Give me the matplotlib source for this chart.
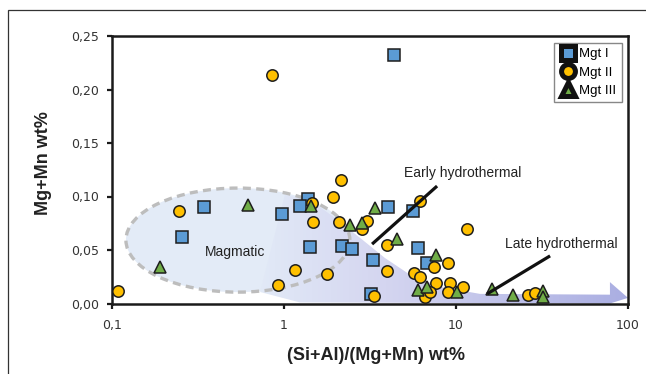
import numpy as np
import matplotlib
matplotlib.use('Agg')
from matplotlib import pyplot as plt
from matplotlib.patches import Ellipse, PathPatch, Rectangle
from matplotlib.path import Path
from matplotlib.lines import Line2D
from matplotlib.ticker import FixedLocator, NullLocator

## data: x = (Si+Al)/(Mg+Mn), y = Mg+Mn wt%
mgt1_x = [4.36, 0.343, 0.255, 0.97, 1.38, 1.24, 1.42, 2.17, 2.48, 3.29, 3.19,
          4.03, 5.62, 6.0, 6.78]
mgt1_y = [0.232, 0.090, 0.062, 0.084, 0.098, 0.091, 0.053, 0.054, 0.051,
          0.041, 0.009, 0.090, 0.086, 0.052, 0.038]

mgt2_x = [0.85, 0.108, 0.245, 0.92, 1.16, 1.78, 1.46, 1.47, 1.93, 2.14, 2.09,
          3.04, 2.84, 3.97, 3.97, 3.33, 6.18, 11.6, 7.45, 8.97, 5.70, 6.2,
          7.66, 9.2, 11.0, 8.97, 6.6, 7.07, 26.2, 28.8]
mgt2_y = [0.214, 0.012, 0.086, 0.017, 0.031, 0.028, 0.094, 0.076, 0.100,
          0.115, 0.076, 0.077, 0.070, 0.055, 0.030, 0.007, 0.096, 0.070,
          0.034, 0.038, 0.0285, 0.025, 0.019, 0.019, 0.0155, 0.011, 0.006,
          0.011, 0.008, 0.0098]

mgt3_x = [0.190, 0.618, 1.44, 3.38, 2.42, 2.84, 4.54, 7.66, 6.0, 6.78, 10.1,
          16.2, 21.4, 32.1, 32.1]
mgt3_y = [0.034, 0.092, 0.091, 0.089, 0.073, 0.075, 0.060, 0.045, 0.0126,
          0.0155, 0.0107, 0.0135, 0.008, 0.0117, 0.006]

x_ticks = [0.1, 1, 10, 100]
x_ticklabels = ['0,1', '1', '10', '100']
y_ticks = [0.0, 0.05, 0.10, 0.15, 0.20, 0.25]
y_ticklabels = ['0,00', '0,05', '0,10', '0,15', '0,20', '0,25']

labels = ['Mgt I', 'Mgt II', 'Mgt III']
colors = ['#5b9bd5', '#ffc000', '#70ad47']
markers = ['s', 'o', '^']

txt_font = ['Liberation Sans', 'DejaVu Sans']

fig = plt.figure(figsize=(6.46, 3.74), dpi=100)
ax = fig.add_axes([112/646, 1-303.5/374, 516/646, 267.5/374])
ax.set_xscale('log')

## outer frame of the figure
fig.patches.append(Rectangle((8/646, -0.2), 1.2, 1.2 - 10/374,
                             transform=fig.transFigure, fill=False,
                             ec='#333333', lw=0.9))

## magmatic field (ellipse in axes fraction)
ell = Ellipse((0.244, 0.237), 0.434, 0.389, transform=ax.transAxes,
              fc='#e3ebf7', ec='none', zorder=1)
ax.add_patch(ell)

## hydrothermal trend, gradient filled wedge ending in an arrow head
wedge = [(0.335, 0.406), (0.384, 0.387), (0.432, 0.320), (0.481, 0.245),
         (0.529, 0.170), (0.578, 0.107), (0.636, 0.062), (0.713, 0.036),
         (0.965, 0.033), (0.965, 0.080), (1.0, 0.021), (0.965, 0.0),
         (0.364, 0.004), (0.287, 0.043), (0.335, 0.406)]
path = Path(wedge, [Path.MOVETO] + [Path.LINETO] * (len(wedge) - 2)
            + [Path.CLOSEPOLY])
clip = PathPatch(path, transform=ax.transAxes, fc='none', ec='none')
ax.add_patch(clip)
stops = np.array([0.0, 0.35, 1.0])
cols = np.array([[226, 234, 247], [212, 213, 240], [170, 174, 226]]) / 255.
t = np.linspace(0, 1, 300)
img = np.stack([np.interp(t, stops, cols[:, k]) for k in range(3)], axis=-1)
img = img[np.newaxis, :, :]
im = ax.imshow(img, extent=[0.28, 1.0, 0.0, 0.45], transform=ax.transAxes,
               aspect='auto', interpolation='bilinear', zorder=1.2)
im.set_clip_path(clip)

## dashed outline of the magmatic field
outline = Ellipse((0.244, 0.237), 0.434, 0.389, transform=ax.transAxes,
                  fc='none', ec='#bdbdbd', lw=2.4, ls=(0, (2.4, 1.6)),
                  zorder=2)
ax.add_patch(outline)

## data
for xs, ys, m, c in zip([mgt1_x, mgt2_x, mgt3_x], [mgt1_y, mgt2_y, mgt3_y],
                        markers, colors):
    ax.plot(xs, ys, ls='', marker=m, ms=8.2, mfc=c, mec='#1e1e1e', mew=1.1,
            zorder=3)

## annotations
ax.plot([0.504, 0.630], [0.222, 0.439], color='#111111', lw=2.3,
        transform=ax.transAxes, zorder=4, solid_capstyle='butt')
ax.plot([0.849, 0.727], [0.178, 0.036], color='#111111', lw=2.3,
        transform=ax.transAxes, zorder=4, solid_capstyle='butt')
ax.text(0.680, 0.488, 'Early hydrothermal', transform=ax.transAxes,
        ha='center', va='center', fontsize=10, family=txt_font,
        color='#222222', zorder=5)
ax.text(0.870, 0.222, 'Late hydrothermal', transform=ax.transAxes,
        ha='center', va='center', fontsize=10, family=txt_font,
        color='#222222', zorder=5)
ax.text(0.238, 0.193, 'Magmatic', transform=ax.transAxes,
        ha='center', va='center', fontsize=10, family=txt_font,
        color='#222222', zorder=5)

## axes styling
ax.set_xlim(0.1, 100)
ax.set_ylim(0, 0.25)
ax.xaxis.set_major_locator(FixedLocator(x_ticks))
ax.xaxis.set_minor_locator(NullLocator())
ax.set_xticklabels(x_ticklabels)
ax.set_yticks(y_ticks)
ax.set_yticklabels(y_ticklabels)
for sp in ax.spines.values():
    sp.set_linewidth(1.8)
    sp.set_color('#1a1a1a')
ax.tick_params(axis='both', direction='out', length=3.5, width=1.6,
               color='#1a1a1a', labelsize=9, labelcolor='#333333')
ax.tick_params(axis='x', pad=8)
ax.tick_params(axis='y', pad=6)

fig.text(376/646, 1 - 355/374, '(Si+Al)/(Mg+Mn) wt%', ha='center',
         va='center', fontsize=13, fontweight='bold', family=txt_font,
         color='#222222')
fig.text(43/646, 1 - 163/374, 'Mg+Mn wt%', ha='center', va='center',
         rotation=90, fontsize=13, fontweight='bold', family=txt_font,
         color='#222222')

## legend with heavy black-edged symbols
handles = [Line2D([], [], ls='', marker=m, ms=10, mfc=c, mec='#111111',
                  mew=3.6) for m, c in zip(markers, colors)]
leg = ax.legend(handles, labels, loc='upper right',
                bbox_to_anchor=(0.988, 0.974), borderaxespad=0,
                fancybox=False, framealpha=1, edgecolor='#888888',
                prop={'family': txt_font, 'size': 9.5},
                handletextpad=0.3, handlelength=1.2, labelspacing=0.45,
                borderpad=0.4)
leg.get_frame().set_linewidth(1.0)
leg.set_zorder(6)

fig.savefig('out.png', dpi=100)
